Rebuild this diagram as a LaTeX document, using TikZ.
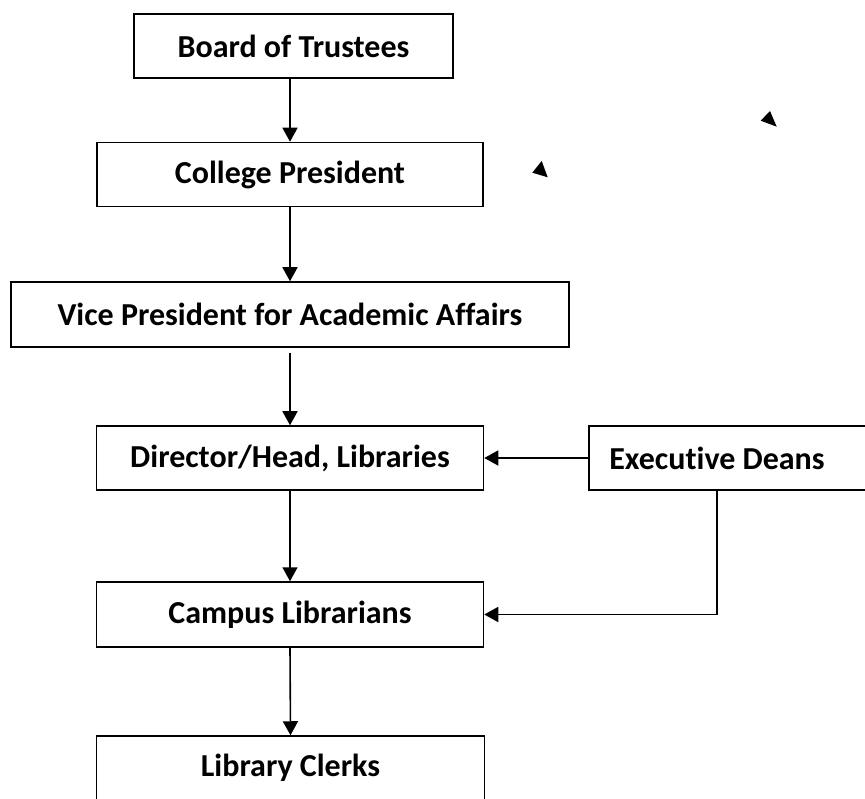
\documentclass[tikz,border=0pt]{standalone}
\usepackage{fontspec}
\setmainfont{Carlito}[RawFeature={-liga;-clig;-dlig}]
\usepackage{tikz}
\usetikzlibrary{arrows.meta}
\usetikzlibrary{calc}
\tikzset{
  unit/.style={draw=black, line width=1.5pt, minimum height=64pt, inner sep=0pt,
               font=\fontsize{32}{38}\selectfont\bfseries},
  link/.style={line width=1.6pt, -{Triangle[length=14pt,width=15pt]}}
}

\begin{document}
\begin{tikzpicture}[x=1pt,y=-1pt]
\useasboundingbox (0,0) rectangle (865,799);
\clip (0,0) rectangle (865,799);

\node[unit, minimum width=319pt] (board) at (293.5,46) {Board of Trustees};
\node[unit, minimum width=386pt] (pres) at (290,174.5) {College President};
\node[unit, minimum width=558pt, minimum height=65pt] (vice) at (290,314.5) {Vice President for Academic Affairs};
\node[unit, minimum width=387pt] (dir) at (290,458) {Director/Head, Libraries};
\node[unit, minimum width=286pt] (deans) at (732,458) {Executive Deans\hspace*{30pt}};
\node[unit, minimum width=387pt, minimum height=65pt] (camp) at (290,614.5) {Campus Librarians};
\node[unit, minimum width=388pt] (clerks) at (290.5,768) {Library Clerks};
\coordinate (drop) at (717,458);

\draw[link] (board.south -| 290,0) -- (pres.north);
\draw[link] (pres.south) -- (vice.north);
\draw[link, shorten <=5pt] (vice.south) -- (dir.north);
\draw[link] (dir.south) -- (camp.north);
\draw[link] (camp.south) -- (clerks.north);
\draw[link] (deans.west) -- (dir.east);
\draw[link] (drop |- deans.south) |- (camp.east);

%% loose arrow tips left in the chart
\fill (541.7,161) -- (532.3,172.7) -- (547.7,177.3) -- cycle;
\fill (770,111) -- (760.7,120.7) -- (776.7,126.7) -- cycle;
\end{tikzpicture}
\end{document}
